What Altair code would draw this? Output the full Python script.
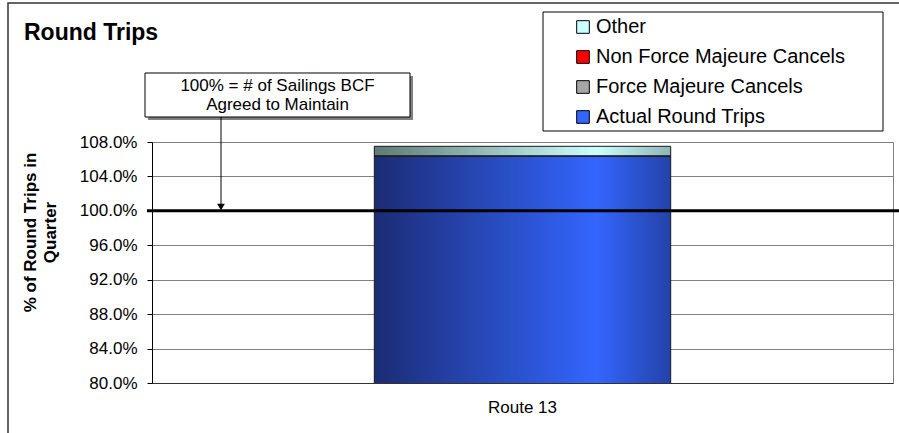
import altair as alt
import pandas as pd

FONT = "Liberation Sans"

# ---- data ----
routes = ["Route 13"]
series = ["Actual Round Trips", "Force Majeure Cancels", "Non Force Majeure Cancels", "Other"]
values = [1.064, 0.0, 0.0, 0.011]
legend_order = ["Other", "Non Force Majeure Cancels", "Force Majeure Cancels", "Actual Round Trips"]
legend_colors = ["#ccffff", "#ff0000", "#a6a6a6", "#3366ff"]
y_ticks = [0.80, 0.84, 0.88, 0.92, 0.96, 1.00, 1.04, 1.08]
target = [1.0]
title_text = "Round Trips"
y_title = ["% of Round Trips in", "Quarter"]
note_lines = ["100% = # of Sailings BCF", "Agreed to Maintain"]

df = pd.DataFrame({
    "route": routes * len(series),
    "series": series,
    "value": values,
    "order": list(range(len(series))),
})
target_df = pd.DataFrame({"t": target})
deco_df = pd.DataFrame({"a": [0]})

W, H = 741, 241

def grad(stops):
    return alt.Gradient(
        gradient="linear", x1=0, x2=1, y1=0, y2=0,
        stops=[alt.GradientStop(color=c, offset=o) for o, c in stops],
    )

fills = {
    "Actual Round Trips": grad([(0, "#1b2c74"), (0.75, "#3366ff"), (1, "#2442a8")]),
    "Force Majeure Cancels": grad([(0, "#555555"), (0.75, "#d0d0d0"), (1, "#888888")]),
    "Non Force Majeure Cancels": grad([(0, "#800000"), (0.75, "#ff0000"), (1, "#b00000")]),
    "Other": grad([(0, "#5f7a74"), (0.75, "#ccffff"), (1, "#8fb5b5")]),
}

y_scale = alt.Scale(domain=[0.80, 1.08], nice=False, zero=False)
y_axis = alt.Axis(
    values=y_ticks, format=".1%", title=y_title,
    titleFont=FONT, titleFontSize=17, titleFontWeight="bold", titleColor="black",
    titleAngle=-90, titleX=-117, titleY=90, titleAlign="center",
    titleBaseline="alphabetic", titleLineHeight=20,
    labelFont=FONT, labelFontSize=17, labelColor="black", labelPadding=10,
    tickSize=5, tickColor="black", domainColor="black", domainWidth=1,
    grid=True, gridColor="#808080", gridWidth=1,
)
x_enc = alt.X(
    "route:N", title=None,
    scale=alt.Scale(paddingInner=0, paddingOuter=0.75),
    axis=alt.Axis(labelAngle=0, ticks=False, labelPadding=16, labelFont=FONT,
                  labelFontSize=17, labelColor="black", domainColor="#333333", grid=False),
)

base = alt.Chart(df).transform_stack(
    stack="value", as_=["y0", "y1"], groupby=["route"],
    sort=[alt.SortField("order", order="ascending")],
)

bars = []
for s in series:
    bars.append(
        base.transform_filter(alt.datum.series == s)
        .mark_bar(fill=fills[s], stroke="#1a1a1a", strokeWidth=1, clip=True)
        .encode(x=x_enc, y=alt.Y("y0:Q", scale=y_scale, axis=y_axis), y2="y1:Q")
    )

legend_layer = alt.Chart(df).mark_square(opacity=0).encode(
    x=x_enc,
    y=alt.Y("value:Q", scale=y_scale, axis=y_axis),
    color=alt.Color(
        "series:N",
        scale=alt.Scale(domain=legend_order, range=legend_colors),
        legend=alt.Legend(
            title=None, orient="none", legendX=421, legendY=-125,
            symbolType="square", symbolSize=160, symbolStrokeColor="black",
            symbolStrokeWidth=1, symbolOpacity=1,
            labelFont=FONT, labelFontSize=20, labelColor="black", labelOffset=3,
            rowPadding=10, padding=0, labelLimit=400,
        ),
    ),
)

outer = alt.Chart(deco_df).mark_rect(fillOpacity=0, stroke="#333333", strokeWidth=1.5).encode(
    x=alt.value(-144), x2=alt.value(770), y=alt.value(-139), y2=alt.value(320)
)
legend_box = alt.Chart(deco_df).mark_rect(fill="white", stroke="black", strokeWidth=1).encode(
    x=alt.value(391), x2=alt.value(731), y=alt.value(-130), y2=alt.value(-11)
)
note_shadow = alt.Chart(deco_df).mark_rect(fill="#808080").encode(
    x=alt.value(-4), x2=alt.value(261), y=alt.value(-66), y2=alt.value(-22)
)
note_box = alt.Chart(deco_df).mark_rect(fill="white", stroke="black", strokeWidth=1).encode(
    x=alt.value(-7), x2=alt.value(258), y=alt.value(-69), y2=alt.value(-25)
)
note_text = alt.Chart(deco_df).mark_text(
    text=note_lines, font=FONT, fontSize=17, color="black", align="center",
    baseline="alphabetic", lineHeight=19,
).encode(x=alt.value(125.5), y=alt.value(-51))
arrow_line = alt.Chart(deco_df).mark_rule(color="black", strokeWidth=1).encode(
    x=alt.value(69), y=alt.value(-25), y2=alt.value(64)
)
arrow_head = alt.Chart(deco_df).mark_point(
    shape="triangle-down", filled=True, color="black", size=60, opacity=1
).encode(x=alt.value(69), y=alt.value(65))

target_rule = alt.Chart(target_df).mark_rule(color="black", strokeWidth=3).encode(
    y=alt.Y("t:Q", scale=y_scale, axis=y_axis), x=alt.value(-5), x2=alt.value(752)
)

title_mark = alt.Chart(deco_df).mark_text(
    text=title_text, font=FONT, fontSize=23, fontWeight="bold", color="black",
    align="left", baseline="alphabetic",
).encode(x=alt.value(-128), y=alt.value(-102.5))

chart = alt.layer(
    outer, *bars, legend_layer, target_rule, legend_box,
    note_shadow, note_box, note_text, arrow_line, arrow_head, title_mark,
).properties(
    width=W, height=H,
    autosize=alt.AutoSizeParams(type="none"),
    padding={"left": 152, "top": 142, "right": 6, "bottom": 50},
    background="white",
).configure_view(stroke="#808080", strokeWidth=1)

chart.save("out.html", embed_options={"renderer": "svg", "actions": False})
